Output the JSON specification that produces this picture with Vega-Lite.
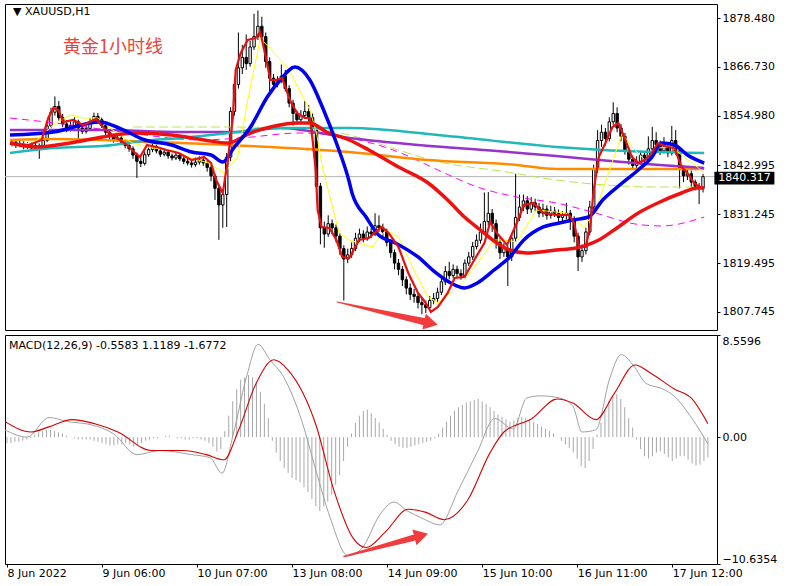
{
"$schema": "https://vega.github.io/schema/vega-lite/v6.json",
"background": "white",
"padding": {"left": 2, "top": 3, "right": 0, "bottom": 0},
"config": {
  "view": {"stroke": "black", "strokeWidth": 1},
  "axis": {"labelFont": "DejaVu Sans", "labelFontSize": 11, "labelColor": "black", "tickColor": "black", "domain": false, "grid": false},
  "concat": {"spacing": 3}
},
"datasets": {
"candles": [
{"i":0,"o":1848.2,"h":1849.3,"l":1847.6,"c":1848.6,"hist":-0.5},
{"i":1,"o":1848.6,"h":1849.0,"l":1847.2,"c":1847.9,"hist":-0.5},
{"i":2,"o":1847.9,"h":1849.1,"l":1847.4,"c":1848.3,"hist":-0.4},
{"i":3,"o":1848.3,"h":1848.8,"l":1846.9,"c":1847.5,"hist":-0.4},
{"i":4,"o":1847.5,"h":1848.6,"l":1847.0,"c":1848.0,"hist":-0.3},
{"i":5,"o":1848.0,"h":1848.5,"l":1846.6,"c":1847.2,"hist":-0.2},
{"i":6,"o":1847.2,"h":1848.4,"l":1846.9,"c":1847.8,"hist":-0.1},
{"i":7,"o":1847.8,"h":1848.3,"l":1844.6,"c":1847.4,"hist":0.2},
{"i":8,"o":1847.4,"h":1849.8,"l":1846.9,"c":1849.0,"hist":0.4},
{"i":9,"o":1849.0,"h":1853.4,"l":1848.6,"c":1852.5,"hist":0.5},
{"i":10,"o":1852.5,"h":1856.9,"l":1852.0,"c":1855.8,"hist":0.6},
{"i":11,"o":1855.8,"h":1859.6,"l":1855.0,"c":1857.2,"hist":0.6},
{"i":12,"o":1857.2,"h":1858.5,"l":1853.8,"c":1854.5,"hist":0.5},
{"i":13,"o":1854.5,"h":1855.4,"l":1852.2,"c":1853.0,"hist":0.4},
{"i":14,"o":1853.0,"h":1853.8,"l":1851.0,"c":1851.8,"hist":0.3},
{"i":15,"o":1851.8,"h":1853.6,"l":1851.2,"c":1852.6,"hist":0.1},
{"i":16,"o":1852.6,"h":1854.6,"l":1852.1,"c":1853.5,"hist":0.0},
{"i":17,"o":1853.5,"h":1854.0,"l":1848.6,"c":1852.0,"hist":-0.1},
{"i":18,"o":1852.0,"h":1852.7,"l":1850.6,"c":1851.2,"hist":-0.2},
{"i":19,"o":1851.2,"h":1852.6,"l":1850.7,"c":1851.9,"hist":-0.2},
{"i":20,"o":1851.9,"h":1854.4,"l":1851.5,"c":1853.6,"hist":-0.2},
{"i":21,"o":1853.6,"h":1855.7,"l":1853.0,"c":1854.8,"hist":-0.2},
{"i":22,"o":1854.8,"h":1855.6,"l":1853.4,"c":1854.0,"hist":-0.3},
{"i":23,"o":1854.0,"h":1854.5,"l":1852.0,"c":1852.6,"hist":-0.4},
{"i":24,"o":1852.6,"h":1853.1,"l":1850.3,"c":1851.0,"hist":-0.5},
{"i":25,"o":1851.0,"h":1851.6,"l":1849.3,"c":1850.0,"hist":-0.6},
{"i":26,"o":1850.0,"h":1850.6,"l":1848.5,"c":1849.2,"hist":-0.7},
{"i":27,"o":1849.2,"h":1850.4,"l":1848.7,"c":1849.6,"hist":-0.7},
{"i":28,"o":1849.6,"h":1850.1,"l":1848.0,"c":1848.6,"hist":-0.6},
{"i":29,"o":1848.6,"h":1849.2,"l":1847.1,"c":1847.8,"hist":-0.6},
{"i":30,"o":1847.8,"h":1848.4,"l":1846.3,"c":1847.0,"hist":-0.5},
{"i":31,"o":1847.0,"h":1847.6,"l":1844.6,"c":1845.5,"hist":-0.6},
{"i":32,"o":1845.5,"h":1846.1,"l":1840.0,"c":1844.0,"hist":-0.8},
{"i":33,"o":1844.0,"h":1845.0,"l":1842.6,"c":1843.5,"hist":-0.7},
{"i":34,"o":1843.5,"h":1846.4,"l":1843.0,"c":1845.6,"hist":-0.5},
{"i":35,"o":1845.6,"h":1847.6,"l":1845.1,"c":1846.8,"hist":-0.3},
{"i":36,"o":1846.8,"h":1848.2,"l":1846.2,"c":1847.5,"hist":-0.2},
{"i":37,"o":1847.5,"h":1848.0,"l":1845.9,"c":1846.5,"hist":-0.1},
{"i":38,"o":1846.5,"h":1847.0,"l":1845.0,"c":1845.7,"hist":-0.1},
{"i":39,"o":1845.7,"h":1846.9,"l":1845.2,"c":1846.2,"hist":0.0},
{"i":40,"o":1846.2,"h":1846.7,"l":1844.6,"c":1845.3,"hist":0.1},
{"i":41,"o":1845.3,"h":1845.9,"l":1844.2,"c":1844.8,"hist":0.1},
{"i":42,"o":1844.8,"h":1846.1,"l":1844.3,"c":1845.5,"hist":0.0},
{"i":43,"o":1845.5,"h":1846.0,"l":1844.0,"c":1844.6,"hist":-0.1},
{"i":44,"o":1844.6,"h":1845.2,"l":1843.3,"c":1844.0,"hist":-0.1},
{"i":45,"o":1844.0,"h":1844.6,"l":1843.0,"c":1843.6,"hist":-0.2},
{"i":46,"o":1843.6,"h":1844.2,"l":1842.5,"c":1843.2,"hist":-0.2},
{"i":47,"o":1843.2,"h":1844.9,"l":1842.7,"c":1843.8,"hist":-0.1},
{"i":48,"o":1843.8,"h":1845.2,"l":1843.2,"c":1844.3,"hist":-0.1},
{"i":49,"o":1844.3,"h":1844.8,"l":1842.9,"c":1843.6,"hist":-0.2},
{"i":50,"o":1843.6,"h":1844.1,"l":1841.5,"c":1842.5,"hist":-0.3},
{"i":51,"o":1842.5,"h":1843.0,"l":1839.2,"c":1840.5,"hist":-0.5},
{"i":52,"o":1840.5,"h":1841.0,"l":1834.7,"c":1837.5,"hist":-0.8},
{"i":53,"o":1837.5,"h":1838.3,"l":1825.1,"c":1833.5,"hist":-1.2},
{"i":54,"o":1833.5,"h":1837.0,"l":1828.0,"c":1836.0,"hist":-1.0},
{"i":55,"o":1836.0,"h":1846.0,"l":1828.2,"c":1845.0,"hist":0.5},
{"i":56,"o":1845.0,"h":1857.0,"l":1844.0,"c":1856.0,"hist":1.8},
{"i":57,"o":1856.0,"h":1864.0,"l":1855.0,"c":1862.5,"hist":3.0},
{"i":58,"o":1862.5,"h":1875.0,"l":1861.5,"c":1866.5,"hist":4.0},
{"i":59,"o":1866.5,"h":1872.0,"l":1865.0,"c":1869.0,"hist":4.8},
{"i":60,"o":1869.0,"h":1874.5,"l":1866.0,"c":1867.5,"hist":5.0},
{"i":61,"o":1867.5,"h":1873.0,"l":1866.8,"c":1871.5,"hist":5.2},
{"i":62,"o":1871.5,"h":1879.5,"l":1870.8,"c":1874.0,"hist":5.0},
{"i":63,"o":1874.0,"h":1880.3,"l":1873.2,"c":1876.5,"hist":4.6},
{"i":64,"o":1876.5,"h":1878.8,"l":1873.0,"c":1874.0,"hist":3.8},
{"i":65,"o":1874.0,"h":1875.0,"l":1866.5,"c":1868.0,"hist":2.8},
{"i":66,"o":1868.0,"h":1869.0,"l":1860.4,"c":1864.0,"hist":1.6},
{"i":67,"o":1864.0,"h":1865.0,"l":1861.5,"c":1862.5,"hist":-0.3},
{"i":68,"o":1862.5,"h":1864.5,"l":1861.8,"c":1863.5,"hist":-1.3},
{"i":69,"o":1863.5,"h":1867.3,"l":1862.8,"c":1864.5,"hist":-2.0},
{"i":70,"o":1864.5,"h":1866.0,"l":1860.8,"c":1861.5,"hist":-2.6},
{"i":71,"o":1861.5,"h":1862.3,"l":1857.0,"c":1858.0,"hist":-3.0},
{"i":72,"o":1858.0,"h":1858.8,"l":1852.6,"c":1855.5,"hist":-3.4},
{"i":73,"o":1855.5,"h":1856.2,"l":1852.8,"c":1854.0,"hist":-3.6},
{"i":74,"o":1854.0,"h":1856.3,"l":1853.3,"c":1855.0,"hist":-3.8},
{"i":75,"o":1855.0,"h":1858.5,"l":1854.2,"c":1856.0,"hist":-4.2},
{"i":76,"o":1856.0,"h":1857.5,"l":1853.6,"c":1854.5,"hist":-4.6},
{"i":77,"o":1854.5,"h":1855.5,"l":1851.0,"c":1852.0,"hist":-5.2},
{"i":78,"o":1852.0,"h":1852.8,"l":1836.5,"c":1838.0,"hist":-5.8},
{"i":79,"o":1838.0,"h":1838.8,"l":1824.0,"c":1828.0,"hist":-6.2},
{"i":80,"o":1828.0,"h":1829.5,"l":1823.2,"c":1826.5,"hist":-5.8},
{"i":81,"o":1826.5,"h":1831.0,"l":1825.8,"c":1829.0,"hist":-5.4},
{"i":82,"o":1829.0,"h":1830.0,"l":1826.5,"c":1828.0,"hist":-4.8},
{"i":83,"o":1828.0,"h":1828.8,"l":1824.5,"c":1826.0,"hist":-4.0},
{"i":84,"o":1826.0,"h":1826.8,"l":1821.5,"c":1823.0,"hist":-3.2},
{"i":85,"o":1823.0,"h":1823.8,"l":1810.5,"c":1820.5,"hist":-2.0},
{"i":86,"o":1820.5,"h":1823.0,"l":1819.5,"c":1821.5,"hist":-0.8},
{"i":87,"o":1821.5,"h":1824.5,"l":1820.8,"c":1823.0,"hist":0.3},
{"i":88,"o":1823.0,"h":1826.8,"l":1822.4,"c":1825.5,"hist":1.2},
{"i":89,"o":1825.5,"h":1827.8,"l":1824.6,"c":1826.5,"hist":1.8},
{"i":90,"o":1826.5,"h":1827.4,"l":1824.5,"c":1825.5,"hist":2.2},
{"i":91,"o":1825.5,"h":1828.3,"l":1824.9,"c":1827.0,"hist":2.3},
{"i":92,"o":1827.0,"h":1828.0,"l":1825.5,"c":1826.5,"hist":2.0},
{"i":93,"o":1826.5,"h":1831.5,"l":1826.0,"c":1828.5,"hist":1.6},
{"i":94,"o":1828.5,"h":1831.0,"l":1827.0,"c":1828.0,"hist":1.2},
{"i":95,"o":1828.0,"h":1829.0,"l":1825.8,"c":1827.0,"hist":0.7},
{"i":96,"o":1827.0,"h":1827.8,"l":1823.5,"c":1824.5,"hist":0.2},
{"i":97,"o":1824.5,"h":1825.3,"l":1820.8,"c":1822.0,"hist":-0.3},
{"i":98,"o":1822.0,"h":1822.8,"l":1818.0,"c":1819.5,"hist":-0.6},
{"i":99,"o":1819.5,"h":1820.5,"l":1816.6,"c":1818.0,"hist":-0.8},
{"i":100,"o":1818.0,"h":1818.8,"l":1814.0,"c":1815.5,"hist":-0.9},
{"i":101,"o":1815.5,"h":1816.3,"l":1812.0,"c":1813.5,"hist":-0.9},
{"i":102,"o":1813.5,"h":1814.6,"l":1810.6,"c":1812.0,"hist":-0.8},
{"i":103,"o":1812.0,"h":1813.3,"l":1810.0,"c":1811.5,"hist":-0.7},
{"i":104,"o":1811.5,"h":1812.4,"l":1808.6,"c":1810.0,"hist":-0.6},
{"i":105,"o":1810.0,"h":1811.2,"l":1807.2,"c":1809.5,"hist":-0.5},
{"i":106,"o":1809.5,"h":1810.5,"l":1807.5,"c":1808.8,"hist":-0.4},
{"i":107,"o":1808.8,"h":1811.6,"l":1808.0,"c":1810.5,"hist":-0.3},
{"i":108,"o":1810.5,"h":1812.3,"l":1809.6,"c":1811.0,"hist":-0.1},
{"i":109,"o":1811.0,"h":1813.6,"l":1810.2,"c":1812.5,"hist":0.3},
{"i":110,"o":1812.5,"h":1816.0,"l":1811.8,"c":1815.0,"hist":0.8},
{"i":111,"o":1815.0,"h":1818.8,"l":1814.2,"c":1817.5,"hist":1.3},
{"i":112,"o":1817.5,"h":1819.8,"l":1815.6,"c":1816.5,"hist":1.8},
{"i":113,"o":1816.5,"h":1819.2,"l":1815.8,"c":1818.0,"hist":2.2},
{"i":114,"o":1818.0,"h":1818.9,"l":1816.0,"c":1817.0,"hist":2.5},
{"i":115,"o":1817.0,"h":1818.0,"l":1815.5,"c":1816.5,"hist":2.7},
{"i":116,"o":1816.5,"h":1820.4,"l":1816.0,"c":1819.5,"hist":2.9},
{"i":117,"o":1819.5,"h":1822.2,"l":1818.8,"c":1821.0,"hist":3.0},
{"i":118,"o":1821.0,"h":1824.6,"l":1820.3,"c":1823.5,"hist":3.1},
{"i":119,"o":1823.5,"h":1826.4,"l":1822.8,"c":1825.0,"hist":3.2},
{"i":120,"o":1825.0,"h":1829.0,"l":1824.2,"c":1827.0,"hist":3.0},
{"i":121,"o":1827.0,"h":1836.5,"l":1826.3,"c":1829.5,"hist":2.8},
{"i":122,"o":1829.5,"h":1836.6,"l":1828.5,"c":1831.5,"hist":2.5},
{"i":123,"o":1831.5,"h":1832.5,"l":1827.0,"c":1829.0,"hist":2.2},
{"i":124,"o":1829.0,"h":1830.0,"l":1823.0,"c":1824.5,"hist":1.9},
{"i":125,"o":1824.5,"h":1825.5,"l":1820.5,"c":1822.0,"hist":1.7},
{"i":126,"o":1822.0,"h":1824.3,"l":1821.0,"c":1823.0,"hist":1.5},
{"i":127,"o":1823.0,"h":1823.8,"l":1814.0,"c":1821.0,"hist":1.3},
{"i":128,"o":1821.0,"h":1826.5,"l":1820.0,"c":1825.5,"hist":1.4},
{"i":129,"o":1825.5,"h":1841.0,"l":1824.6,"c":1830.5,"hist":1.6},
{"i":130,"o":1830.5,"h":1836.0,"l":1829.6,"c":1833.0,"hist":1.7},
{"i":131,"o":1833.0,"h":1836.0,"l":1832.0,"c":1834.5,"hist":1.6},
{"i":132,"o":1834.5,"h":1835.6,"l":1831.3,"c":1832.5,"hist":1.5},
{"i":133,"o":1832.5,"h":1835.4,"l":1831.6,"c":1834.0,"hist":1.3},
{"i":134,"o":1834.0,"h":1835.0,"l":1832.0,"c":1833.0,"hist":1.1},
{"i":135,"o":1833.0,"h":1834.0,"l":1830.5,"c":1831.5,"hist":0.9},
{"i":136,"o":1831.5,"h":1833.8,"l":1830.6,"c":1832.5,"hist":0.7},
{"i":137,"o":1832.5,"h":1833.4,"l":1830.0,"c":1831.0,"hist":0.5},
{"i":138,"o":1831.0,"h":1833.3,"l":1830.2,"c":1832.0,"hist":0.3},
{"i":139,"o":1832.0,"h":1833.0,"l":1830.6,"c":1831.5,"hist":0.0},
{"i":140,"o":1831.5,"h":1832.4,"l":1829.4,"c":1830.5,"hist":-0.3},
{"i":141,"o":1830.5,"h":1832.0,"l":1829.5,"c":1831.0,"hist":-0.6},
{"i":142,"o":1831.0,"h":1834.0,"l":1830.0,"c":1831.5,"hist":-0.9},
{"i":143,"o":1831.5,"h":1832.3,"l":1827.5,"c":1830.0,"hist":-1.3},
{"i":144,"o":1830.0,"h":1830.8,"l":1824.5,"c":1826.0,"hist":-1.8},
{"i":145,"o":1826.0,"h":1826.8,"l":1817.6,"c":1821.0,"hist":-2.4},
{"i":146,"o":1821.0,"h":1824.0,"l":1819.8,"c":1822.5,"hist":-2.6},
{"i":147,"o":1822.5,"h":1828.0,"l":1821.6,"c":1827.0,"hist":-2.0},
{"i":148,"o":1827.0,"h":1834.5,"l":1826.2,"c":1833.0,"hist":-1.0},
{"i":149,"o":1833.0,"h":1843.2,"l":1832.4,"c":1842.0,"hist":0.2},
{"i":150,"o":1842.0,"h":1851.5,"l":1841.2,"c":1849.0,"hist":1.2},
{"i":151,"o":1849.0,"h":1852.8,"l":1847.5,"c":1851.0,"hist":2.2},
{"i":152,"o":1851.0,"h":1852.0,"l":1847.8,"c":1849.5,"hist":3.0},
{"i":153,"o":1849.5,"h":1854.6,"l":1848.8,"c":1853.5,"hist":3.4},
{"i":154,"o":1853.5,"h":1858.2,"l":1852.8,"c":1855.5,"hist":3.6},
{"i":155,"o":1855.5,"h":1857.0,"l":1851.0,"c":1852.0,"hist":3.2},
{"i":156,"o":1852.0,"h":1853.0,"l":1848.8,"c":1850.0,"hist":2.5},
{"i":157,"o":1850.0,"h":1850.8,"l":1845.6,"c":1846.5,"hist":1.6},
{"i":158,"o":1846.5,"h":1847.3,"l":1843.2,"c":1844.5,"hist":0.8},
{"i":159,"o":1844.5,"h":1845.4,"l":1842.0,"c":1843.0,"hist":-0.2},
{"i":160,"o":1843.0,"h":1845.2,"l":1842.2,"c":1844.0,"hist":-1.0},
{"i":161,"o":1844.0,"h":1846.5,"l":1843.2,"c":1845.5,"hist":-1.6},
{"i":162,"o":1845.5,"h":1846.3,"l":1843.6,"c":1844.5,"hist":-1.8},
{"i":163,"o":1844.5,"h":1850.0,"l":1844.0,"c":1847.0,"hist":-1.6},
{"i":164,"o":1847.0,"h":1852.3,"l":1846.2,"c":1849.0,"hist":-1.3},
{"i":165,"o":1849.0,"h":1851.0,"l":1847.0,"c":1848.0,"hist":-1.2},
{"i":166,"o":1848.0,"h":1849.0,"l":1845.5,"c":1846.5,"hist":-1.4},
{"i":167,"o":1846.5,"h":1849.8,"l":1845.9,"c":1847.5,"hist":-1.7},
{"i":168,"o":1847.5,"h":1848.4,"l":1845.0,"c":1846.0,"hist":-2.0},
{"i":169,"o":1846.0,"h":1852.5,"l":1845.4,"c":1849.0,"hist":-1.8},
{"i":170,"o":1849.0,"h":1851.5,"l":1845.6,"c":1846.5,"hist":-1.6},
{"i":171,"o":1846.5,"h":1847.2,"l":1837.5,"c":1842.0,"hist":-1.6},
{"i":172,"o":1842.0,"h":1843.0,"l":1839.0,"c":1840.5,"hist":-1.9},
{"i":173,"o":1840.5,"h":1842.4,"l":1839.5,"c":1841.0,"hist":-2.2},
{"i":174,"o":1841.0,"h":1841.8,"l":1837.8,"c":1839.0,"hist":-2.4},
{"i":175,"o":1839.0,"h":1839.6,"l":1837.0,"c":1838.0,"hist":-2.3},
{"i":176,"o":1838.0,"h":1838.8,"l":1833.7,"c":1837.5,"hist":-2.0},
{"i":177,"o":1837.5,"h":1841.0,"l":1836.5,"c":1840.3,"hist":-1.7}
],
"ma": [
{"s":"rf","i":-0.5,"v":1848.16},{"s":"rf","i":4.3,"v":1847.92},{"s":"rf","i":7.6,"v":1849.13},{"s":"rf","i":9.3,"v":1854.42},{"s":"rf","i":10.6,"v":1856.83},{"s":"rf","i":11.9,"v":1856.34},{"s":"rf","i":13.1,"v":1853.46},{"s":"rf","i":15.7,"v":1853.94},{"s":"rf","i":18.2,"v":1852.74},{"s":"rf","i":21.5,"v":1854.18},{"s":"rf","i":24.5,"v":1851.05},{"s":"rf","i":27.0,"v":1849.61},{"s":"rf","i":29.5,"v":1847.92},{"s":"rf","i":31.3,"v":1846.24},{"s":"rf","i":32.8,"v":1845.03},{"s":"rf","i":34.6,"v":1847.92},{"s":"rf","i":37.1,"v":1847.44},{"s":"rf","i":39.6,"v":1846.72},{"s":"rf","i":42.7,"v":1846.0},{"s":"rf","i":46.0,"v":1844.31},{"s":"rf","i":49.2,"v":1845.03},{"s":"rf","i":51.0,"v":1843.59},{"s":"rf","i":52.3,"v":1839.5},{"s":"rf","i":54.0,"v":1836.37},{"s":"rf","i":55.3,"v":1844.31},{"s":"rf","i":56.6,"v":1854.66},{"s":"rf","i":57.3,"v":1865.97},{"s":"rf","i":58.6,"v":1870.06},{"s":"rf","i":60.4,"v":1873.19},{"s":"rf","i":62.4,"v":1873.67},{"s":"rf","i":63.6,"v":1875.11},{"s":"rf","i":64.9,"v":1869.58},{"s":"rf","i":66.2,"v":1863.56},{"s":"rf","i":67.7,"v":1863.56},{"s":"rf","i":69.2,"v":1864.04},{"s":"rf","i":71.2,"v":1858.75},{"s":"rf","i":73.0,"v":1855.62},{"s":"rf","i":75.0,"v":1854.42},{"s":"rf","i":76.3,"v":1854.42},{"s":"rf","i":77.0,"v":1849.13},{"s":"rf","i":77.8,"v":1841.91},{"s":"rf","i":78.3,"v":1832.28},{"s":"rf","i":79.3,"v":1828.2},{"s":"rf","i":81.3,"v":1827.96},{"s":"rf","i":83.1,"v":1825.07},{"s":"rf","i":84.6,"v":1820.98},{"s":"rf","i":86.4,"v":1820.73},{"s":"rf","i":88.9,"v":1825.07},{"s":"rf","i":91.4,"v":1825.55},{"s":"rf","i":94.7,"v":1828.2},{"s":"rf","i":96.5,"v":1826.75},{"s":"rf","i":99.0,"v":1823.38},{"s":"rf","i":101.5,"v":1817.13},{"s":"rf","i":104.0,"v":1812.32},{"s":"rf","i":105.8,"v":1810.15},{"s":"rf","i":107.3,"v":1807.75},{"s":"rf","i":109.1,"v":1808.95},{"s":"rf","i":111.6,"v":1812.32},{"s":"rf","i":113.4,"v":1815.93},{"s":"rf","i":115.9,"v":1816.17},{"s":"rf","i":118.4,"v":1820.25},{"s":"rf","i":121.0,"v":1824.35},{"s":"rf","i":122.5,"v":1829.4},{"s":"rf","i":124.2,"v":1826.75},{"s":"rf","i":126.8,"v":1823.86},{"s":"rf","i":129.3,"v":1829.16},{"s":"rf","i":131.1,"v":1833.49},{"s":"rf","i":133.6,"v":1833.97},{"s":"rf","i":136.1,"v":1831.56},{"s":"rf","i":139.4,"v":1831.08},{"s":"rf","i":142.7,"v":1831.08},{"s":"rf","i":144.0,"v":1829.16},{"s":"rf","i":145.2,"v":1823.38},{"s":"rf","i":147.0,"v":1823.38},{"s":"rf","i":148.2,"v":1829.16},{"s":"rf","i":149.0,"v":1837.1},{"s":"rf","i":150.3,"v":1845.03},{"s":"rf","i":152.0,"v":1848.4},{"s":"rf","i":153.8,"v":1852.25},{"s":"rf","i":155.3,"v":1853.22},{"s":"rf","i":156.6,"v":1850.33},{"s":"rf","i":158.8,"v":1845.03},{"s":"rf","i":160.4,"v":1843.59},{"s":"rf","i":162.1,"v":1844.31},{"s":"rf","i":163.9,"v":1846.0},{"s":"rf","i":165.4,"v":1848.4},{"s":"rf","i":167.9,"v":1847.44},{"s":"rf","i":169.7,"v":1847.2},{"s":"rf","i":171.5,"v":1842.63},{"s":"rf","i":173.0,"v":1841.19},{"s":"rf","i":174.7,"v":1838.78},{"s":"rf","i":176.5,"v":1837.58},{"s":"rf","i":177.3,"v":1837.82},
{"s":"ye","i":-0.5,"v":1847.92},{"s":"ye","i":5.6,"v":1848.4},{"s":"ye","i":10.6,"v":1852.74},{"s":"ye","i":14.9,"v":1855.14},{"s":"ye","i":18.2,"v":1854.42},{"s":"ye","i":22.0,"v":1854.42},{"s":"ye","i":25.8,"v":1851.53},{"s":"ye","i":30.8,"v":1848.4},{"s":"ye","i":35.9,"v":1847.2},{"s":"ye","i":40.9,"v":1846.72},{"s":"ye","i":46.0,"v":1844.79},{"s":"ye","i":50.3,"v":1843.59},{"s":"ye","i":54.3,"v":1841.19},{"s":"ye","i":57.8,"v":1845.03},{"s":"ye","i":60.4,"v":1858.75},{"s":"ye","i":63.6,"v":1873.67},{"s":"ye","i":70.5,"v":1866.69},{"s":"ye","i":76.3,"v":1856.34},{"s":"ye","i":78.0,"v":1850.81},{"s":"ye","i":79.5,"v":1842.63},{"s":"ye","i":83.8,"v":1826.75},{"s":"ye","i":86.4,"v":1825.07},{"s":"ye","i":92.2,"v":1823.38},{"s":"ye","i":95.7,"v":1827.47},{"s":"ye","i":99.0,"v":1825.79},{"s":"ye","i":103.3,"v":1817.13},{"s":"ye","i":106.6,"v":1811.35},{"s":"ye","i":109.1,"v":1809.91},{"s":"ye","i":112.4,"v":1812.32},{"s":"ye","i":115.9,"v":1815.44},{"s":"ye","i":119.2,"v":1819.53},{"s":"ye","i":123.5,"v":1825.07},{"s":"ye","i":126.0,"v":1825.07},{"s":"ye","i":129.3,"v":1824.59},{"s":"ye","i":134.3,"v":1832.28},{"s":"ye","i":141.9,"v":1831.56},{"s":"ye","i":146.5,"v":1828.2},{"s":"ye","i":149.5,"v":1832.28},{"s":"ye","i":152.8,"v":1841.19},{"s":"ye","i":156.3,"v":1850.81},{"s":"ye","i":158.8,"v":1847.44},{"s":"ye","i":162.1,"v":1844.31},{"s":"ye","i":165.4,"v":1847.2},{"s":"ye","i":168.9,"v":1847.44},{"s":"ye","i":172.2,"v":1845.03},{"s":"ye","i":175.5,"v":1842.63},{"s":"ye","i":177.3,"v":1841.19},
{"s":"bl","i":-0.5,"v":1850.33},{"s":"bl","i":10.6,"v":1851.05},{"s":"bl","i":22.5,"v":1853.46},{"s":"bl","i":27.5,"v":1852.01},{"s":"bl","i":34.1,"v":1849.13},{"s":"bl","i":40.9,"v":1847.92},{"s":"bl","i":46.0,"v":1846.24},{"s":"bl","i":51.0,"v":1845.52},{"s":"bl","i":54.0,"v":1843.83},{"s":"bl","i":56.8,"v":1847.2},{"s":"bl","i":61.1,"v":1852.25},{"s":"bl","i":65.4,"v":1859.47},{"s":"bl","i":68.7,"v":1863.56},{"s":"bl","i":72.5,"v":1866.69},{"s":"bl","i":76.3,"v":1863.56},{"s":"bl","i":79.5,"v":1857.06},{"s":"bl","i":83.1,"v":1848.4},{"s":"bl","i":86.4,"v":1839.02},{"s":"bl","i":87.1,"v":1836.37},{"s":"bl","i":90.7,"v":1830.6},{"s":"bl","i":93.9,"v":1826.27},{"s":"bl","i":98.2,"v":1824.35},{"s":"bl","i":104.0,"v":1820.98},{"s":"bl","i":108.3,"v":1817.37},{"s":"bl","i":112.4,"v":1814.72},{"s":"bl","i":115.9,"v":1813.52},{"s":"bl","i":119.2,"v":1814.72},{"s":"bl","i":123.5,"v":1817.85},{"s":"bl","i":127.5,"v":1820.98},{"s":"bl","i":131.1,"v":1825.07},{"s":"bl","i":136.1,"v":1828.2},{"s":"bl","i":140.2,"v":1829.16},{"s":"bl","i":143.7,"v":1829.88},{"s":"bl","i":147.7,"v":1830.6},{"s":"bl","i":151.3,"v":1834.69},{"s":"bl","i":156.3,"v":1838.78},{"s":"bl","i":160.4,"v":1841.91},{"s":"bl","i":163.9,"v":1845.03},{"s":"bl","i":166.4,"v":1848.4},{"s":"bl","i":169.7,"v":1847.92},{"s":"bl","i":173.0,"v":1845.52},{"s":"bl","i":177.3,"v":1843.59},
{"s":"rt","i":-0.5,"v":1848.4},{"s":"rt","i":6.3,"v":1847.44},{"s":"rt","i":14.9,"v":1848.4},{"s":"rt","i":23.2,"v":1849.85},{"s":"rt","i":31.6,"v":1850.81},{"s":"rt","i":40.9,"v":1850.33},{"s":"rt","i":49.2,"v":1849.13},{"s":"rt","i":55.3,"v":1848.4},{"s":"rt","i":61.1,"v":1850.81},{"s":"rt","i":66.2,"v":1852.25},{"s":"rt","i":73.0,"v":1853.22},{"s":"rt","i":76.3,"v":1853.22},{"s":"rt","i":80.6,"v":1851.05},{"s":"rt","i":86.4,"v":1849.13},{"s":"rt","i":91.4,"v":1846.72},{"s":"rt","i":99.0,"v":1842.63},{"s":"rt","i":106.6,"v":1838.78},{"s":"rt","i":111.6,"v":1834.69},{"s":"rt","i":115.9,"v":1830.6},{"s":"rt","i":120.0,"v":1827.47},{"s":"rt","i":124.2,"v":1824.35},{"s":"rt","i":127.5,"v":1822.66},{"s":"rt","i":131.8,"v":1821.94},{"s":"rt","i":139.4,"v":1822.66},{"s":"rt","i":144.4,"v":1823.14},{"s":"rt","i":150.3,"v":1825.07},{"s":"rt","i":155.3,"v":1828.2},{"s":"rt","i":160.4,"v":1831.56},{"s":"rt","i":165.4,"v":1833.97},{"s":"rt","i":171.5,"v":1836.37},{"s":"rt","i":175.5,"v":1837.58},{"s":"rt","i":177.3,"v":1837.58},
{"s":"cy","i":-0.5,"v":1846.0},{"s":"cy","i":10.6,"v":1847.2},{"s":"cy","i":23.2,"v":1847.68},{"s":"cy","i":35.9,"v":1849.13},{"s":"cy","i":43.4,"v":1849.61},{"s":"cy","i":57.8,"v":1851.05},{"s":"cy","i":66.2,"v":1852.01},{"s":"cy","i":86.4,"v":1852.01},{"s":"cy","i":111.6,"v":1850.09},{"s":"cy","i":139.4,"v":1847.44},{"s":"cy","i":151.3,"v":1846.72},{"s":"cy","i":177.3,"v":1846.0},
{"s":"pu","i":-0.5,"v":1851.53},{"s":"pu","i":23.2,"v":1851.53},{"s":"pu","i":43.4,"v":1851.05},{"s":"pu","i":57.8,"v":1851.05},{"s":"pu","i":68.7,"v":1852.01},{"s":"pu","i":86.4,"v":1849.61},{"s":"pu","i":104.0,"v":1847.92},{"s":"pu","i":124.2,"v":1846.48},{"s":"pu","i":139.4,"v":1845.28},{"s":"pu","i":156.3,"v":1843.83},{"s":"pu","i":177.3,"v":1842.39},
{"s":"or","i":-0.5,"v":1849.13},{"s":"or","i":10.6,"v":1849.37},{"s":"or","i":23.2,"v":1849.13},{"s":"or","i":35.9,"v":1848.65},{"s":"or","i":43.4,"v":1848.4},{"s":"or","i":55.3,"v":1847.92},{"s":"or","i":66.2,"v":1847.44},{"s":"or","i":86.4,"v":1846.24},{"s":"or","i":106.6,"v":1844.31},{"s":"or","i":129.3,"v":1843.11},{"s":"or","i":139.4,"v":1842.15},{"s":"or","i":177.3,"v":1842.15},
{"s":"mg","i":-0.5,"v":1854.42},{"s":"mg","i":13.1,"v":1852.98},{"s":"mg","i":28.3,"v":1851.05},{"s":"mg","i":48.5,"v":1849.13},{"s":"mg","i":58.6,"v":1849.61},{"s":"mg","i":73.7,"v":1850.81},{"s":"mg","i":88.9,"v":1849.13},{"s":"mg","i":99.0,"v":1846.24},{"s":"mg","i":109.1,"v":1841.91},{"s":"mg","i":119.2,"v":1837.82},{"s":"mg","i":129.3,"v":1835.41},{"s":"mg","i":139.4,"v":1833.97},{"s":"mg","i":149.5,"v":1831.56},{"s":"mg","i":159.6,"v":1828.92},{"s":"mg","i":166.4,"v":1828.44},{"s":"mg","i":177.3,"v":1830.6},
{"s":"gr","i":31.0,"v":1852.25},{"s":"gr","i":56.1,"v":1852.25},{"s":"gr","i":73.7,"v":1852.01},{"s":"gr","i":86.4,"v":1850.33},{"s":"gr","i":99.0,"v":1846.72},{"s":"gr","i":107.3,"v":1844.31},{"s":"gr","i":126.8,"v":1841.43},{"s":"gr","i":139.4,"v":1839.5},{"s":"gr","i":152.0,"v":1838.3},{"s":"gr","i":164.6,"v":1837.82},{"s":"gr","i":177.3,"v":1837.82}
],
"macd": [
{"s":"m","i":-0.5,"v":0.6},{"s":"m","i":5.1,"v":0.0},{"s":"m","i":10.6,"v":1.64},{"s":"m","i":15.4,"v":1.3},{"s":"m","i":21.2,"v":1.04},{"s":"m","i":27.0,"v":0.26},{"s":"m","i":32.8,"v":-1.47},{"s":"m","i":38.6,"v":-1.12},{"s":"m","i":46.7,"v":-1.47},{"s":"m","i":51.3,"v":-1.73},{"s":"m","i":54.3,"v":-3.03},{"s":"m","i":57.1,"v":0.17},{"s":"m","i":60.6,"v":5.19},{"s":"m","i":63.4,"v":7.78},{"s":"m","i":66.4,"v":6.48},{"s":"m","i":69.9,"v":5.02},{"s":"m","i":74.5,"v":1.3},{"s":"m","i":78.0,"v":-2.77},{"s":"m","i":81.6,"v":-6.74},{"s":"m","i":86.1,"v":-9.94},{"s":"m","i":89.6,"v":-9.34},{"s":"m","i":94.2,"v":-6.48},{"s":"m","i":97.7,"v":-5.45},{"s":"m","i":101.3,"v":-6.22},{"s":"m","i":104.5,"v":-6.74},{"s":"m","i":109.3,"v":-7.35},{"s":"m","i":113.9,"v":-4.5},{"s":"m","i":118.7,"v":-1.3},{"s":"m","i":123.2,"v":1.56},{"s":"m","i":127.8,"v":0.69},{"s":"m","i":131.3,"v":3.29},{"s":"m","i":134.8,"v":3.46},{"s":"m","i":139.4,"v":3.29},{"s":"m","i":142.9,"v":2.59},{"s":"m","i":145.2,"v":0.43},{"s":"m","i":148.7,"v":0.61},{"s":"m","i":152.3,"v":5.02},{"s":"m","i":155.1,"v":6.92},{"s":"m","i":158.1,"v":6.05},{"s":"m","i":161.4,"v":4.5},{"s":"m","i":165.4,"v":4.06},{"s":"m","i":168.4,"v":3.46},{"s":"m","i":173.0,"v":1.56},{"s":"m","i":177.0,"v":-0.5583},
{"s":"sg","i":-0.5,"v":1.3},{"s":"sg","i":6.1,"v":0.43},{"s":"sg","i":10.6,"v":0.86},{"s":"sg","i":16.4,"v":1.47},{"s":"sg","i":22.2,"v":1.12},{"s":"sg","i":28.0,"v":0.43},{"s":"sg","i":36.4,"v":-1.12},{"s":"sg","i":44.4,"v":-1.12},{"s":"sg","i":50.3,"v":-1.47},{"s":"sg","i":54.8,"v":-1.9},{"s":"sg","i":58.3,"v":0.43},{"s":"sg","i":62.9,"v":4.5},{"s":"sg","i":67.4,"v":6.48},{"s":"sg","i":71.0,"v":5.62},{"s":"sg","i":78.0,"v":1.04},{"s":"sg","i":82.6,"v":-4.5},{"s":"sg","i":87.4,"v":-8.47},{"s":"sg","i":90.7,"v":-9.25},{"s":"sg","i":95.5,"v":-7.96},{"s":"sg","i":101.3,"v":-6.05},{"s":"sg","i":105.8,"v":-6.31},{"s":"sg","i":110.4,"v":-6.92},{"s":"sg","i":116.2,"v":-5.36},{"s":"sg","i":122.0,"v":-1.3},{"s":"sg","i":125.5,"v":0.43},{"s":"sg","i":132.6,"v":1.56},{"s":"sg","i":138.9,"v":3.2},{"s":"sg","i":142.9,"v":2.85},{"s":"sg","i":148.7,"v":1.47},{"s":"sg","i":153.3,"v":3.63},{"s":"sg","i":158.6,"v":6.05},{"s":"sg","i":162.6,"v":5.36},{"s":"sg","i":168.4,"v":4.06},{"s":"sg","i":173.0,"v":3.2},{"s":"sg","i":177.0,"v":1.1189}
],
"last": [{"p": 1840.317}],
"arrowTop": [{"i": 83.3, "p": 1810.15}, {"i": 105.4, "p": 1805.46}],
"arrowTopHead": [{"i": 107.3, "p": 1805.05}],
"arrowBot": [{"i": 85.1, "v": -10.0}, {"i": 102.5, "v": -8.45}],
"arrowBotHead": [{"i": 104.6, "v": -8.25}]
},
"vconcat": [
{
 "width": 712, "height": 326,
 "layer": [
  {"data": {"name": "last"}, "mark": {"type": "rule", "color": "#b4b4b4", "strokeWidth": 1},
   "encoding": {"y": {"field": "p", "type": "quantitative", "scale": {"domain": [1803.41, 1881.85], "nice": false, "zero": false},
     "axis": {"orient": "right", "title": null, "values": [1878.48, 1866.73, 1854.98, 1842.995, 1831.245, 1819.495, 1807.745], "format": ".3f", "tickSize": 3, "labelPadding": 2}}}},
  {"data": {"name": "candles"}, "mark": {"type": "rule", "color": "black", "strokeWidth": 1},
   "encoding": {
    "x": {"field": "i", "type": "quantitative", "scale": {"domain": [-0.5, 179.3], "nice": false, "zero": false}, "axis": null},
    "y": {"field": "l", "type": "quantitative", "scale": {"domain": [1803.41, 1881.85], "nice": false, "zero": false},
          "axis": {"orient": "right", "title": null, "values": [1878.48, 1866.73, 1854.98, 1842.995, 1831.245, 1819.495, 1807.745], "format": ".3f", "tickSize": 3, "labelPadding": 2}},
    "y2": {"field": "h"}}},
  {"data": {"name": "candles"}, "mark": {"type": "bar", "width": 2.4, "stroke": "black", "strokeWidth": 1},
   "encoding": {
    "x": {"field": "i", "type": "quantitative", "scale": {"domain": [-0.5, 179.3], "nice": false, "zero": false}, "axis": null},
    "y": {"field": "o", "type": "quantitative", "scale": {"domain": [1803.41, 1881.85], "nice": false, "zero": false},
          "axis": {"orient": "right", "title": null, "values": [1878.48, 1866.73, 1854.98, 1842.995, 1831.245, 1819.495, 1807.745], "format": ".3f", "tickSize": 3, "labelPadding": 2}},
    "y2": {"field": "c"},
    "fill": {"condition": {"test": "datum.c >= datum.o", "value": "white"}, "value": "black"}}},
  {"data": {"name": "ma"}, "transform": [{"filter": "datum.s == 'mg'"}], "mark": {"type": "line", "color": "#ff00ff", "strokeWidth": 1, "strokeDash": [7, 5], "interpolate": "monotone"},
   "encoding": {"x": {"field": "i", "type": "quantitative", "scale": {"domain": [-0.5, 179.3], "nice": false, "zero": false}, "axis": null},
    "y": {"field": "v", "type": "quantitative", "scale": {"domain": [1803.41, 1881.85], "nice": false, "zero": false},
          "axis": {"orient": "right", "title": null, "values": [1878.48, 1866.73, 1854.98, 1842.995, 1831.245, 1819.495, 1807.745], "format": ".3f", "tickSize": 3, "labelPadding": 2}}}},
  {"data": {"name": "ma"}, "transform": [{"filter": "datum.s == 'gr'"}], "mark": {"type": "line", "color": "#b5e655", "strokeWidth": 1, "strokeDash": [9, 4], "interpolate": "monotone"},
   "encoding": {"x": {"field": "i", "type": "quantitative", "scale": {"domain": [-0.5, 179.3], "nice": false, "zero": false}, "axis": null},
    "y": {"field": "v", "type": "quantitative", "scale": {"domain": [1803.41, 1881.85], "nice": false, "zero": false},
          "axis": {"orient": "right", "title": null, "values": [1878.48, 1866.73, 1854.98, 1842.995, 1831.245, 1819.495, 1807.745], "format": ".3f", "tickSize": 3, "labelPadding": 2}}}},
  {"data": {"name": "ma"}, "transform": [{"filter": "datum.s == 'or'"}], "mark": {"type": "line", "color": "#ff8c00", "strokeWidth": 2.5, "interpolate": "monotone"},
   "encoding": {"x": {"field": "i", "type": "quantitative", "scale": {"domain": [-0.5, 179.3], "nice": false, "zero": false}, "axis": null},
    "y": {"field": "v", "type": "quantitative", "scale": {"domain": [1803.41, 1881.85], "nice": false, "zero": false},
          "axis": {"orient": "right", "title": null, "values": [1878.48, 1866.73, 1854.98, 1842.995, 1831.245, 1819.495, 1807.745], "format": ".3f", "tickSize": 3, "labelPadding": 2}}}},
  {"data": {"name": "ma"}, "transform": [{"filter": "datum.s == 'pu'"}], "mark": {"type": "line", "color": "#9932cc", "strokeWidth": 2.5, "interpolate": "monotone"},
   "encoding": {"x": {"field": "i", "type": "quantitative", "scale": {"domain": [-0.5, 179.3], "nice": false, "zero": false}, "axis": null},
    "y": {"field": "v", "type": "quantitative", "scale": {"domain": [1803.41, 1881.85], "nice": false, "zero": false},
          "axis": {"orient": "right", "title": null, "values": [1878.48, 1866.73, 1854.98, 1842.995, 1831.245, 1819.495, 1807.745], "format": ".3f", "tickSize": 3, "labelPadding": 2}}}},
  {"data": {"name": "ma"}, "transform": [{"filter": "datum.s == 'cy'"}], "mark": {"type": "line", "color": "#20b8b8", "strokeWidth": 2.5, "interpolate": "monotone"},
   "encoding": {"x": {"field": "i", "type": "quantitative", "scale": {"domain": [-0.5, 179.3], "nice": false, "zero": false}, "axis": null},
    "y": {"field": "v", "type": "quantitative", "scale": {"domain": [1803.41, 1881.85], "nice": false, "zero": false},
          "axis": {"orient": "right", "title": null, "values": [1878.48, 1866.73, 1854.98, 1842.995, 1831.245, 1819.495, 1807.745], "format": ".3f", "tickSize": 3, "labelPadding": 2}}}},
  {"data": {"name": "ma"}, "transform": [{"filter": "datum.s == 'ye'"}], "mark": {"type": "line", "color": "#ffff00", "strokeWidth": 1},
   "encoding": {"x": {"field": "i", "type": "quantitative", "scale": {"domain": [-0.5, 179.3], "nice": false, "zero": false}, "axis": null},
    "y": {"field": "v", "type": "quantitative", "scale": {"domain": [1803.41, 1881.85], "nice": false, "zero": false},
          "axis": {"orient": "right", "title": null, "values": [1878.48, 1866.73, 1854.98, 1842.995, 1831.245, 1819.495, 1807.745], "format": ".3f", "tickSize": 3, "labelPadding": 2}}}},
  {"data": {"name": "ma"}, "transform": [{"filter": "datum.s == 'rt'"}], "mark": {"type": "line", "color": "#ee1111", "strokeWidth": 3.5, "interpolate": "monotone"},
   "encoding": {"x": {"field": "i", "type": "quantitative", "scale": {"domain": [-0.5, 179.3], "nice": false, "zero": false}, "axis": null},
    "y": {"field": "v", "type": "quantitative", "scale": {"domain": [1803.41, 1881.85], "nice": false, "zero": false},
          "axis": {"orient": "right", "title": null, "values": [1878.48, 1866.73, 1854.98, 1842.995, 1831.245, 1819.495, 1807.745], "format": ".3f", "tickSize": 3, "labelPadding": 2}}}},
  {"data": {"name": "ma"}, "transform": [{"filter": "datum.s == 'bl'"}], "mark": {"type": "line", "color": "#0000f0", "strokeWidth": 3.5, "interpolate": "monotone"},
   "encoding": {"x": {"field": "i", "type": "quantitative", "scale": {"domain": [-0.5, 179.3], "nice": false, "zero": false}, "axis": null},
    "y": {"field": "v", "type": "quantitative", "scale": {"domain": [1803.41, 1881.85], "nice": false, "zero": false},
          "axis": {"orient": "right", "title": null, "values": [1878.48, 1866.73, 1854.98, 1842.995, 1831.245, 1819.495, 1807.745], "format": ".3f", "tickSize": 3, "labelPadding": 2}}}},
  {"data": {"name": "ma"}, "transform": [{"filter": "datum.s == 'rf'"}], "mark": {"type": "line", "color": "#e81010", "strokeWidth": 2.2},
   "encoding": {"x": {"field": "i", "type": "quantitative", "scale": {"domain": [-0.5, 179.3], "nice": false, "zero": false}, "axis": null},
    "y": {"field": "v", "type": "quantitative", "scale": {"domain": [1803.41, 1881.85], "nice": false, "zero": false},
          "axis": {"orient": "right", "title": null, "values": [1878.48, 1866.73, 1854.98, 1842.995, 1831.245, 1819.495, 1807.745], "format": ".3f", "tickSize": 3, "labelPadding": 2}}}},
  {"data": {"name": "arrowTop"}, "mark": {"type": "trail", "color": "#f03c3c"},
   "encoding": {"x": {"field": "i", "type": "quantitative", "scale": {"domain": [-0.5, 179.3], "nice": false, "zero": false}, "axis": null},
    "y": {"field": "p", "type": "quantitative", "scale": {"domain": [1803.41, 1881.85], "nice": false, "zero": false},
          "axis": {"orient": "right", "title": null, "values": [1878.48, 1866.73, 1854.98, 1842.995, 1831.245, 1819.495, 1807.745], "format": ".3f", "tickSize": 3, "labelPadding": 2}},
    "size": {"field": "i", "type": "quantitative", "scale": {"range": [1, 7], "zero": false}, "legend": null}}},
  {"data": {"name": "arrowTopHead"}, "mark": {"type": "point", "shape": "triangle-right", "filled": true, "color": "#f03c3c", "opacity": 1, "size": 260, "angle": 12.5},
   "encoding": {"x": {"field": "i", "type": "quantitative", "scale": {"domain": [-0.5, 179.3], "nice": false, "zero": false}, "axis": null},
    "y": {"field": "p", "type": "quantitative", "scale": {"domain": [1803.41, 1881.85], "nice": false, "zero": false},
          "axis": {"orient": "right", "title": null, "values": [1878.48, 1866.73, 1854.98, 1842.995, 1831.245, 1819.495, 1807.745], "format": ".3f", "tickSize": 3, "labelPadding": 2}}}},
  {"data": {"values": [{"t": "▼ XAUUSD,H1"}]}, "mark": {"type": "text", "align": "left", "baseline": "middle", "font": "DejaVu Sans", "fontSize": 11, "color": "black"},
   "encoding": {"x": {"datum": 0.3, "type": "quantitative", "scale": {"domain": [-0.5, 179.3], "nice": false, "zero": false}, "axis": null},
    "y": {"datum": 1879.9, "type": "quantitative", "scale": {"domain": [1803.41, 1881.85], "nice": false, "zero": false},
          "axis": {"orient": "right", "title": null, "values": [1878.48, 1866.73, 1854.98, 1842.995, 1831.245, 1819.495, 1807.745], "format": ".3f", "tickSize": 3, "labelPadding": 2}},
    "text": {"field": "t"}}},
  {"data": {"values": [{"t": "黄金1小时线"}]}, "mark": {"type": "text", "align": "left", "baseline": "middle", "font": "Noto Sans CJK SC", "fontSize": 18, "color": "#e8453c"},
   "encoding": {"x": {"datum": 13.1, "type": "quantitative", "scale": {"domain": [-0.5, 179.3], "nice": false, "zero": false}, "axis": null},
    "y": {"datum": 1871.26, "type": "quantitative", "scale": {"domain": [1803.41, 1881.85], "nice": false, "zero": false},
          "axis": {"orient": "right", "title": null, "values": [1878.48, 1866.73, 1854.98, 1842.995, 1831.245, 1819.495, 1807.745], "format": ".3f", "tickSize": 3, "labelPadding": 2}},
    "text": {"field": "t"}}},
  {"data": {"name": "last"}, "mark": {"type": "point", "shape": "M-1,-0.215H1V0.215H-1Z", "filled": true, "color": "black", "opacity": 1, "size": 3600, "yOffset": 1.5},
   "encoding": {"x": {"datum": 187.6, "type": "quantitative", "scale": {"domain": [-0.5, 179.3], "nice": false, "zero": false}, "axis": null},
    "y": {"field": "p", "type": "quantitative", "scale": {"domain": [1803.41, 1881.85], "nice": false, "zero": false},
          "axis": {"orient": "right", "title": null, "values": [1878.48, 1866.73, 1854.98, 1842.995, 1831.245, 1819.495, 1807.745], "format": ".3f", "tickSize": 3, "labelPadding": 2}}}},
  {"data": {"name": "last"}, "mark": {"type": "text", "align": "center", "baseline": "middle", "font": "DejaVu Sans", "fontSize": 11, "color": "white", "yOffset": 1.5},
   "encoding": {"x": {"datum": 187.6, "type": "quantitative", "scale": {"domain": [-0.5, 179.3], "nice": false, "zero": false}, "axis": null},
    "y": {"field": "p", "type": "quantitative", "scale": {"domain": [1803.41, 1881.85], "nice": false, "zero": false},
          "axis": {"orient": "right", "title": null, "values": [1878.48, 1866.73, 1854.98, 1842.995, 1831.245, 1819.495, 1807.745], "format": ".3f", "tickSize": 3, "labelPadding": 2}},
    "text": {"field": "p", "type": "quantitative", "format": ".3f"}}}
 ]
},
{
 "width": 712, "height": 229,
 "layer": [
  {"data": {"name": "candles"}, "mark": {"type": "rule", "color": "#a8a8a8", "strokeWidth": 1},
   "encoding": {
    "x": {"field": "i", "type": "quantitative", "scale": {"domain": [-0.5, 179.3], "nice": false, "zero": false},
          "axis": {"orient": "bottom", "title": null, "values": [0, 24, 48, 72, 96, 120, 144, 168], "labelAlign": "left", "tickSize": 3, "labelPadding": 0,
                   "labelExpr": "['8 Jun 2022','9 Jun 06:00','10 Jun 07:00','13 Jun 08:00','14 Jun 09:00','15 Jun 10:00','16 Jun 11:00','17 Jun 12:00'][round(datum.value/24)]"}},
    "y": {"field": "hist", "type": "quantitative", "scale": {"domain": [-10.6354, 8.5596], "nice": false, "zero": false},
          "axis": {"orient": "right", "title": null, "values": [8.5596, 0, -10.6354], "labelFlush": true, "labelFlushOffset": 0, "tickSize": 3, "labelPadding": 2,
                   "labelExpr": "datum.value == 0 ? '0.00' : format(datum.value, '.4f')"}},
    "y2": {"datum": 0}}},
  {"data": {"name": "macd"}, "transform": [{"filter": "datum.s == 'm'"}], "mark": {"type": "line", "color": "#a0a0a0", "strokeWidth": 1, "interpolate": "monotone"},
   "encoding": {
    "x": {"field": "i", "type": "quantitative", "scale": {"domain": [-0.5, 179.3], "nice": false, "zero": false},
          "axis": {"orient": "bottom", "title": null, "values": [0, 24, 48, 72, 96, 120, 144, 168], "labelAlign": "left", "tickSize": 3, "labelPadding": 0,
                   "labelExpr": "['8 Jun 2022','9 Jun 06:00','10 Jun 07:00','13 Jun 08:00','14 Jun 09:00','15 Jun 10:00','16 Jun 11:00','17 Jun 12:00'][round(datum.value/24)]"}},
    "y": {"field": "v", "type": "quantitative", "scale": {"domain": [-10.6354, 8.5596], "nice": false, "zero": false},
          "axis": {"orient": "right", "title": null, "values": [8.5596, 0, -10.6354], "labelFlush": true, "labelFlushOffset": 0, "tickSize": 3, "labelPadding": 2,
                   "labelExpr": "datum.value == 0 ? '0.00' : format(datum.value, '.4f')"}}}},
  {"data": {"name": "macd"}, "transform": [{"filter": "datum.s == 'sg'"}], "mark": {"type": "line", "color": "#d40000", "strokeWidth": 1.1, "interpolate": "monotone"},
   "encoding": {
    "x": {"field": "i", "type": "quantitative", "scale": {"domain": [-0.5, 179.3], "nice": false, "zero": false},
          "axis": {"orient": "bottom", "title": null, "values": [0, 24, 48, 72, 96, 120, 144, 168], "labelAlign": "left", "tickSize": 3, "labelPadding": 0,
                   "labelExpr": "['8 Jun 2022','9 Jun 06:00','10 Jun 07:00','13 Jun 08:00','14 Jun 09:00','15 Jun 10:00','16 Jun 11:00','17 Jun 12:00'][round(datum.value/24)]"}},
    "y": {"field": "v", "type": "quantitative", "scale": {"domain": [-10.6354, 8.5596], "nice": false, "zero": false},
          "axis": {"orient": "right", "title": null, "values": [8.5596, 0, -10.6354], "labelFlush": true, "labelFlushOffset": 0, "tickSize": 3, "labelPadding": 2,
                   "labelExpr": "datum.value == 0 ? '0.00' : format(datum.value, '.4f')"}}}},
  {"data": {"name": "arrowBot"}, "mark": {"type": "trail", "color": "#f03c3c"},
   "encoding": {
    "x": {"field": "i", "type": "quantitative", "scale": {"domain": [-0.5, 179.3], "nice": false, "zero": false},
          "axis": {"orient": "bottom", "title": null, "values": [0, 24, 48, 72, 96, 120, 144, 168], "labelAlign": "left", "tickSize": 3, "labelPadding": 0,
                   "labelExpr": "['8 Jun 2022','9 Jun 06:00','10 Jun 07:00','13 Jun 08:00','14 Jun 09:00','15 Jun 10:00','16 Jun 11:00','17 Jun 12:00'][round(datum.value/24)]"}},
    "y": {"field": "v", "type": "quantitative", "scale": {"domain": [-10.6354, 8.5596], "nice": false, "zero": false},
          "axis": {"orient": "right", "title": null, "values": [8.5596, 0, -10.6354], "labelFlush": true, "labelFlushOffset": 0, "tickSize": 3, "labelPadding": 2,
                   "labelExpr": "datum.value == 0 ? '0.00' : format(datum.value, '.4f')"}},
    "size": {"field": "i", "type": "quantitative", "scale": {"range": [1, 7], "zero": false}, "legend": null}}},
  {"data": {"name": "arrowBotHead"}, "mark": {"type": "point", "shape": "triangle-right", "filled": true, "color": "#f03c3c", "opacity": 1, "size": 260, "angle": 345},
   "encoding": {
    "x": {"field": "i", "type": "quantitative", "scale": {"domain": [-0.5, 179.3], "nice": false, "zero": false},
          "axis": {"orient": "bottom", "title": null, "values": [0, 24, 48, 72, 96, 120, 144, 168], "labelAlign": "left", "tickSize": 3, "labelPadding": 0,
                   "labelExpr": "['8 Jun 2022','9 Jun 06:00','10 Jun 07:00','13 Jun 08:00','14 Jun 09:00','15 Jun 10:00','16 Jun 11:00','17 Jun 12:00'][round(datum.value/24)]"}},
    "y": {"field": "v", "type": "quantitative", "scale": {"domain": [-10.6354, 8.5596], "nice": false, "zero": false},
          "axis": {"orient": "right", "title": null, "values": [8.5596, 0, -10.6354], "labelFlush": true, "labelFlushOffset": 0, "tickSize": 3, "labelPadding": 2,
                   "labelExpr": "datum.value == 0 ? '0.00' : format(datum.value, '.4f')"}}}},
  {"data": {"values": [{"t": "MACD(12,26,9) -0.5583 1.1189 -1.6772"}]}, "mark": {"type": "text", "align": "left", "baseline": "middle", "font": "DejaVu Sans", "fontSize": 11, "color": "black"},
   "encoding": {
    "x": {"datum": 0.5, "type": "quantitative", "scale": {"domain": [-0.5, 179.3], "nice": false, "zero": false},
          "axis": {"orient": "bottom", "title": null, "values": [0, 24, 48, 72, 96, 120, 144, 168], "labelAlign": "left", "tickSize": 3, "labelPadding": 0,
                   "labelExpr": "['8 Jun 2022','9 Jun 06:00','10 Jun 07:00','13 Jun 08:00','14 Jun 09:00','15 Jun 10:00','16 Jun 11:00','17 Jun 12:00'][round(datum.value/24)]"}},
    "y": {"datum": 7.63, "type": "quantitative", "scale": {"domain": [-10.6354, 8.5596], "nice": false, "zero": false},
          "axis": {"orient": "right", "title": null, "values": [8.5596, 0, -10.6354], "labelFlush": true, "labelFlushOffset": 0, "tickSize": 3, "labelPadding": 2,
                   "labelExpr": "datum.value == 0 ? '0.00' : format(datum.value, '.4f')"}},
    "text": {"field": "t"}}}
 ]
}
]
}
